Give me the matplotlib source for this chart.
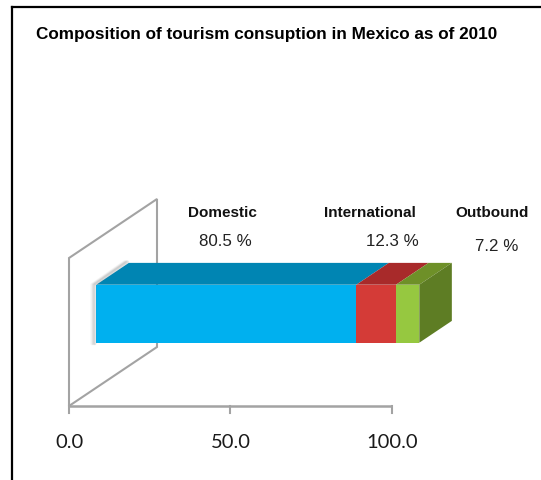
import matplotlib.pyplot as plt
from matplotlib.patches import Polygon
from matplotlib.lines import Line2D
import numpy as np

# ---------------------------------------------------------------- data
categories = ["Domestic", "International", "Outbound"]
shares = [80.5, 12.3, 7.2]
share_labels = ["80.5 %", "12.3 %", "7.2 %"]
xticks = [0.0, 50.0, 100.0]

front_col = ["#00B0EF", "#D43B37", "#96C840"]
top_col = ["#0085B3", "#A82A2A", "#6E9028"]
side_col = "#5E7D24"

# ---------------------------------------------------------------- layout
W, H = 541, 481
PX = 3.23                       # pixels per percentage point
X0_PX, FLOOR_PX = 69, 407       # axis origin in pixels (from top-left)
DX, DY = 88 / PX, 59            # depth of the back wall (x units, px)
D0, D1 = 0.31, 0.68             # bar front / back depth fraction
BAR_LO, BAR_HI = 45, 103        # bar bottom / top above floor (px)
WALL_H = 148
GREY = "#A3A3A3"

fig = plt.figure(figsize=(W / 100, H / 100), dpi=100)
ax = fig.add_axes([0, 0, 1, 1])
ax.set_xlim(-X0_PX / PX, (W - X0_PX) / PX)
ax.set_ylim(0, H)
ax.axis("off")
floor = H - FLOOR_PX


def proj(x, d, z):
    """3D -> 2D: x in data, d depth fraction, z height above floor (px)."""
    return (x + d * DX, floor + d * DY + z)


# back wall (left side panel)
wall = [proj(0, 0, 0), proj(0, 0, WALL_H), proj(0, 1, WALL_H), proj(0, 1, 0)]
ax.add_patch(Polygon(wall, closed=True, fill=False, ec=GREY, lw=1.5,
                     joinstyle="miter"))

# floor axis with ticks
ax.plot([0, 100], [floor, floor], color=GREY, lw=1.8, solid_capstyle="butt")
for t in xticks:
    ax.plot([t, t], [floor, floor - 7], color=GREY, lw=1.5)
    ax.text(t, H - 443, f"{t:.1f}", ha="center", va="center",
            fontsize=14.5, family="Lato", color="#1a1a1a")

# soft shadow along the hidden left end of the bar
for k, a in enumerate([0.08, 0.13, 0.18]):
    off = (3 - k) * 0.45
    pts = [proj(-off, D0, BAR_LO - 1), proj(-off, D0, BAR_HI),
           proj(-off, D1, BAR_HI + 1)]
    ax.plot(*zip(*pts), color="#6f6f6f", lw=2.2, alpha=a,
            solid_capstyle="round", solid_joinstyle="round")

# stacked segments
starts = np.concatenate([[0], np.cumsum(shares)[:-1]])
for s, v, fc, tc in zip(starts, shares, front_col, top_col):
    e = s + v
    front = [proj(s, D0, BAR_LO), proj(e, D0, BAR_LO),
             proj(e, D0, BAR_HI), proj(s, D0, BAR_HI)]
    top = [proj(s, D0, BAR_HI), proj(e, D0, BAR_HI),
           proj(e, D1, BAR_HI), proj(s, D1, BAR_HI)]
    ax.add_patch(Polygon(front, closed=True, fc=fc, ec="none"))
    ax.add_patch(Polygon(top, closed=True, fc=tc, ec="none"))

end = sum(shares)
side = [proj(end, D0, BAR_LO), proj(end, D0, BAR_HI),
        proj(end, D1, BAR_HI), proj(end, D1, BAR_LO)]
ax.add_patch(Polygon(side, closed=True, fc=side_col, ec="none"))

# category and share labels
name_x = [222, 370, 492]
val_x = [225.5, 392.5, 496.5]
val_y = [242, 242, 247]
for name, lab, nx, vx, vy in zip(categories, share_labels, name_x, val_x, val_y):
    ax.text((nx - X0_PX) / PX, H - 213, name, ha="center", va="center",
            fontsize=11, fontweight="bold", family="Liberation Sans",
            color="#111111")
    ax.text((vx - X0_PX) / PX, H - vy, lab, ha="center", va="center",
            fontsize=12.2, family="Liberation Sans", color="#222222")

fig.text(266.5 / W, 1 - 35 / H,
         "Composition of tourism consuption in Mexico as of 2010",
         ha="center", va="center", fontsize=12.3, fontweight="bold",
         family="Liberation Sans")

# outer frame (top and left edges)
fig.add_artist(Line2D([12 / W, 12 / W], [0, 1 - 8 / H], color="black", lw=1.6,
                      transform=fig.transFigure))
fig.add_artist(Line2D([12 / W, 1], [1 - 8 / H, 1 - 8 / H], color="black",
                      lw=1.6, transform=fig.transFigure))

fig.savefig("out.png", dpi=100)
